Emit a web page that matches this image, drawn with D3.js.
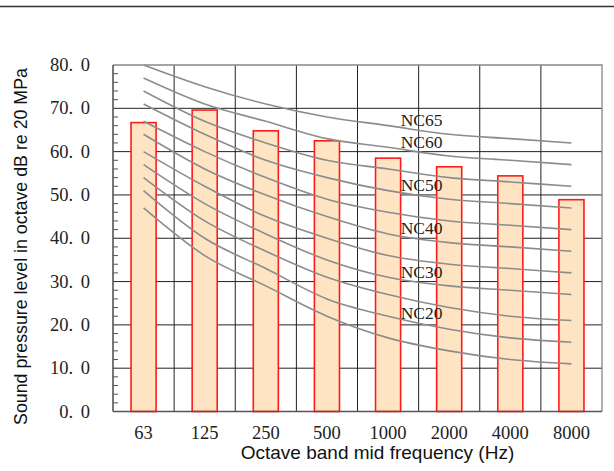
<!DOCTYPE html>
<html>
<head>
<meta charset="utf-8">
<script src="https://cdn.jsdelivr.net/npm/d3@7"></script>
<style>
html, body { margin: 0; padding: 0; background: #fff; }
svg { display: block; }
</style>
</head>
<body>
<svg id="chart" width="614" height="471"></svg>
<script>
// ---- data ----
const categories = ["63", "125", "250", "500", "1000", "2000", "4000", "8000"];
const measured = [66.7, 69.6, 64.8, 62.5, 58.5, 56.5, 54.4, 48.9];
const ncNames = ["NC15", "NC20", "NC25", "NC30", "NC35", "NC40", "NC45", "NC50", "NC55", "NC60", "NC65"];
const nc15 = [47, 36, 29, 22, 17, 14, 12, 11];
const nc20 = [51, 40, 33, 26, 22, 19, 17, 16];
const nc25 = [54, 44, 37, 31, 27, 24, 22, 21];
const nc30 = [57, 48, 41, 35, 31, 29, 28, 27];
const nc35 = [60, 52, 45, 40, 36, 34, 33, 32];
const nc40 = [64, 56, 50, 45, 41, 39, 38, 37];
const nc45 = [67, 60, 54, 49, 46, 44, 43, 42];
const nc50 = [71, 64, 58, 54, 51, 49, 48, 47];
const nc55 = [74, 67, 62, 58, 56, 54, 53, 52];
const nc60 = [77, 71, 67, 63, 61, 59, 58, 57];
const nc65 = [80, 75, 71, 68, 66, 64, 63, 62];
const ncSeries = [nc15, nc20, nc25, nc30, nc35, nc40, nc45, nc50, nc55, nc60, nc65];
const labelledCurves = ["NC65", "NC60", "NC50", "NC40", "NC30", "NC20"];
const yTicks = [0, 10, 20, 30, 40, 50, 60, 70, 80];
const yTickLabels = ["0. 0", "10. 0", "20. 0", "30. 0", "40. 0", "50. 0", "60. 0", "70. 0", "80. 0"];
const yTitle = "Sound pressure level in octave dB re 20 MPa";
const xTitle = "Octave band mid frequency (Hz)";

// ---- layout ----
const pLeft = 113, pRight = 602, pTop = 65, pBottom = 411.5;
const svg = d3.select("#chart");

const x = d3.scaleBand().domain(categories).range([pLeft, pRight]).paddingInner(0).paddingOuter(0);
const y = d3.scaleLinear().domain([0, 80]).range([pBottom, pTop]);
const serif = "'Liberation Serif', 'DejaVu Serif', serif";
const sans = "'Liberation Sans', Arial, sans-serif";

// top rule
svg.append("line").attr("x1", 0).attr("x2", 614).attr("y1", 6.5).attr("y2", 6.5)
  .attr("stroke", "#333").attr("stroke-width", 1.3);

// horizontal gridlines
svg.append("g").selectAll("line").data(yTicks.filter(d => d > 0 && d < 80)).join("line")
  .attr("x1", pLeft).attr("x2", pRight).attr("y1", d => y(d)).attr("y2", d => y(d))
  .attr("stroke", "#222").attr("stroke-width", 1);

// vertical gridlines at category boundaries
svg.append("g").selectAll("line").data(categories.slice(1)).join("line")
  .attr("x1", d => x(d)).attr("x2", d => x(d)).attr("y1", pTop).attr("y2", pBottom)
  .attr("stroke", "#222").attr("stroke-width", 1);

// border top/right
svg.append("path")
  .attr("d", `M${pLeft},${pTop}H${pRight}V${pBottom}`)
  .attr("fill", "none").attr("stroke", "#888").attr("stroke-width", 1.3);

// bars
const bw = x.bandwidth() * 0.41;
svg.append("g").selectAll("rect").data(measured).join("rect")
  .attr("x", (d, i) => x(categories[i]) + x.bandwidth() / 2 - bw / 2)
  .attr("y", d => y(d))
  .attr("width", bw)
  .attr("height", d => y(0) - y(d))
  .attr("fill", "#FFE4C4")
  .attr("stroke", "#FF1A1A")
  .attr("stroke-width", 1.6);

// NC curves
const line = d3.line()
  .x((d, i) => x(categories[i]) + x.bandwidth() / 2)
  .y(d => y(d))
  .curve(d3.curveMonotoneX);
svg.append("g").selectAll("path").data(ncSeries).join("path")
  .attr("d", line)
  .attr("fill", "none")
  .attr("stroke", "#8c8c8c")
  .attr("stroke-width", 1.6);

// NC labels
svg.append("g").selectAll("text").data(labelledCurves).join("text")
  .attr("x", x("2000") + 3)
  .attr("y", d => {
    const s = ncSeries[ncNames.indexOf(d)];
    return y((s[4] + s[5]) / 2) - 10;
  })
  .attr("text-anchor", "middle")
  .attr("dominant-baseline", "central")
  .attr("font-family", serif)
  .attr("font-size", 17.5)
  .attr("fill", "#222")
  .text(d => d);

// y axis minor ticks (inside)
const minor = d3.range(2, 80, 2).filter(v => v % 10 !== 0);
svg.append("g").selectAll("line").data(minor).join("line")
  .attr("x1", pLeft).attr("x2", pLeft + 5).attr("y1", d => y(d)).attr("y2", d => y(d))
  .attr("stroke", "#555").attr("stroke-width", 1);

// axes lines
svg.append("line").attr("x1", pLeft).attr("x2", pLeft).attr("y1", pTop).attr("y2", pBottom)
  .attr("stroke", "#555").attr("stroke-width", 1.6);
svg.append("line").attr("x1", pLeft).attr("x2", pRight).attr("y1", pBottom).attr("y2", pBottom)
  .attr("stroke", "#555").attr("stroke-width", 1.6);

// y tick labels
svg.append("g").selectAll("text").data(yTicks).join("text")
  .attr("x", 90)
  .attr("y", d => y(d))
  .attr("text-anchor", "end")
  .attr("dominant-baseline", "central")
  .attr("font-family", serif)
  .attr("font-size", 18.5)
  .attr("word-spacing", "3px")
  .attr("fill", "#222")
  .style("white-space", "pre")
  .text((d, i) => yTickLabels[i]);

// x tick labels
svg.append("g").selectAll("text").data(categories).join("text")
  .attr("x", d => x(d) + x.bandwidth() / 2)
  .attr("y", 433)
  .attr("text-anchor", "middle")
  .attr("dominant-baseline", "central")
  .attr("font-family", serif)
  .attr("font-size", 18.5)
  .attr("fill", "#222")
  .text(d => d);

// x title
svg.append("text")
  .attr("x", 377.5).attr("y", 459)
  .attr("text-anchor", "middle")
  .attr("font-family", sans)
  .attr("font-size", 19)
  .attr("fill", "#111")
  .text(xTitle);

// y title
svg.append("text")
  .attr("transform", "translate(27,246.5) rotate(-90)")
  .attr("text-anchor", "middle")
  .attr("font-family", sans)
  .attr("font-size", 17.8)
  .attr("fill", "#111")
  .text(yTitle);
</script>
</body>
</html>
